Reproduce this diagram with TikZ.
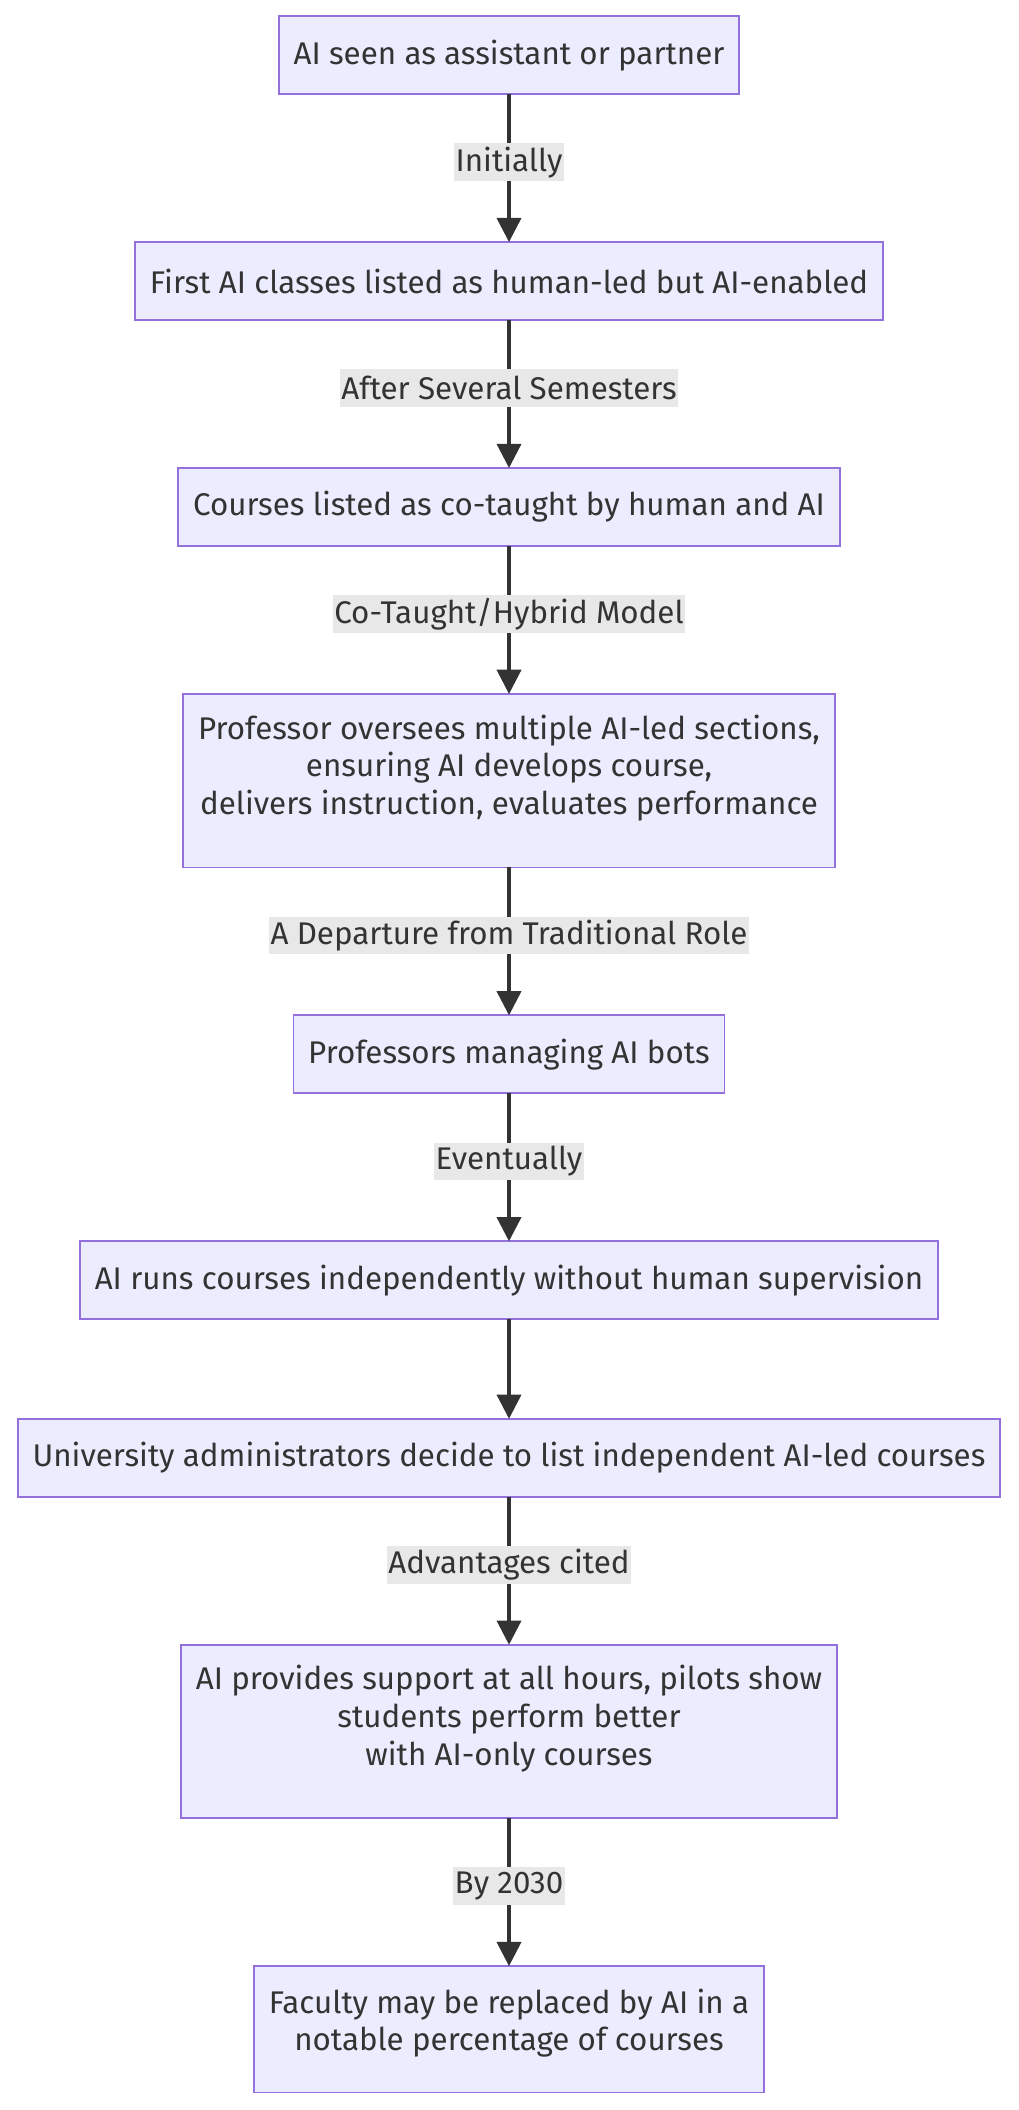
\documentclass[tikz,border=0pt]{standalone}
\usepackage{fontspec}
\setmainfont{Fira Sans}
\usepackage{xcolor}
\usepackage{tikz}
\usetikzlibrary{positioning, arrows.meta}

\definecolor{boxfill}{HTML}{ECECFF}
\definecolor{boxline}{HTML}{9370DB}
\definecolor{edgeline}{HTML}{333333}
\definecolor{labelbg}{HTML}{E8E8E8}

\begin{document}
\begin{tikzpicture}[
        x=1pt, y=1pt,
        font=\fontsize{23.3}{28}\selectfont,
        node distance=110pt,
        box/.style={draw=boxline, fill=boxfill, line width=1.3pt, align=center, text=edgeline, minimum height=58pt, inner xsep=11pt, inner ysep=0pt, outer sep=0pt},
        arrow/.style={-{Triangle[length=18pt, width=18pt]}, line width=2.4pt, draw=edgeline},
        lbl/.style={fill=labelbg, text=edgeline, inner xsep=1pt, inner ysep=0pt, minimum height=28pt, pos=0.46}
    ]
    \useasboundingbox (0,0) rectangle (757,-1569);

    % Nodes
    \node[box, anchor=north] (seen) at (378.5,-12) {AI seen as assistant or partner};
    \node[box, below=of seen] (first) {First AI classes listed as human-led but AI-enabled};
    \node[box, below=of first] (cotaught) {Courses listed as co-taught by human and AI};
    \node[box, below=of cotaught, minimum height=129pt] (oversee) {Professor oversees multiple AI-led sections,\\ ensuring AI develops course,\\ delivers instruction, evaluates performance\\[-4pt] \mbox{}};
    \node[box, below=of oversee] (manage) {Professors managing AI bots};
    \node[box, below=of manage] (runs) {AI runs courses independently without human supervision};
    \node[box, below=74pt of runs] (admin) {University administrators decide to list independent AI-led courses};
    \node[box, below=of admin, minimum height=129pt] (support) {AI provides support at all hours, pilots show\\ students perform better\\ with AI-only courses\\[-4pt] \mbox{}};
    \node[box, below=of support, minimum height=94pt] (replace) {Faculty may be replaced by AI in a\\ notable percentage of courses\\[-14pt] \mbox{}};

    % Arrows
    \draw[arrow] (seen) -- node[lbl] {Initially} (first);
    \draw[arrow] (first) -- node[lbl] {After Several Semesters} (cotaught);
    \draw[arrow] (cotaught) -- node[lbl] {Co-Taught/Hybrid Model} (oversee);
    \draw[arrow] (oversee) -- node[lbl] {A Departure from Traditional Role} (manage);
    \draw[arrow] (manage) -- node[lbl] {Eventually} (runs);
    \draw[arrow] (runs) -- (admin);
    \draw[arrow] (admin) -- node[lbl] {Advantages cited} (support);
    \draw[arrow] (support) -- node[lbl] {By 2030} (replace);

\end{tikzpicture}
\end{document}
